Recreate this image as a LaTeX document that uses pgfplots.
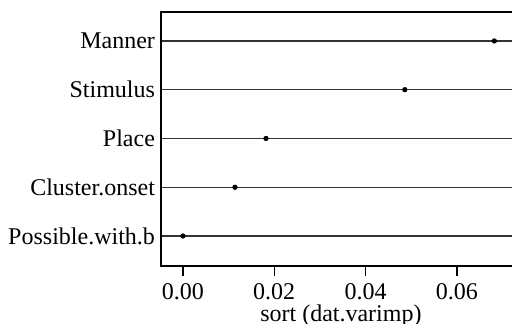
\documentclass[border=0pt]{standalone}
\usepackage{fontspec}
\setmainfont{Liberation Serif}
\usepackage{pgfplots}
\pgfplotsset{compat=1.18}
\begin{document}
\begin{tikzpicture}
\begin{axis}[
  scale only axis,
  width=179.9pt, height=127pt,
  xmin=-0.0048, xmax=0.074,
  ymin=0.385, ymax=5.594,
  ytick={1,2,3,4,5},
  yticklabels={Possible.with.b,Cluster.onset,Place,Stimulus,Manner},
  xtick={0,0.02,0.04,0.06},
  xticklabels={0.00,0.02,0.04,0.06},
  scaled x ticks=false,
  /pgf/number format/assume math mode=true,
  tick label style={font=\fontsize{12}{14}\selectfont},
  label style={font=\fontsize{12}{14}\selectfont},
  ymajorgrids,
  grid style={line width=0.6pt, black!80},
  major tick length=5pt,
  tick style={line width=0.7pt, black},
  ytick style={draw=none},
  xtick pos=bottom,
  tick align=outside,
  axis line style={line width=0.9pt},
  xlabel={sort (dat.varimp)},
  xlabel style={at={(axis description cs:0.5,0)}, anchor=north, yshift=-19pt, inner sep=0pt},
  xticklabel style={yshift=-2.5pt, inner sep=1pt},
  yticklabel style={xshift=5.5pt},
  clip=true,
]
\addplot[only marks, mark=*, mark size=1.1pt, black] coordinates {
  (0.0682,5) (0.0486,4) (0.0182,3) (0.0114,2) (0.0000,1)
};
\end{axis}
\pgfresetboundingbox
\useasboundingbox (-80.5pt,-29pt) rectangle (175.5pt,133pt);
\end{tikzpicture}
\end{document}
